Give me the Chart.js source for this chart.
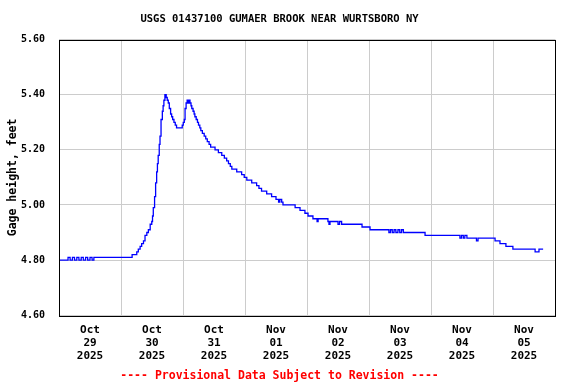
<!DOCTYPE html>
<html>
<head>
<meta charset="utf-8">
<script src="https://cdn.jsdelivr.net/npm/chart.js@4"></script>
<style>
  html, body { margin: 0; padding: 0; background: #fff; }
  #wrap { width: 576px; height: 384px; }
</style>
</head>
<body>
<div id="wrap"><canvas id="myChart"></canvas></div>
<script>
// hours after Oct 29 2025 00:00, gage height in feet
var hours = [0, 3.5, 4.3, 5.2, 6.0, 6.9, 7.7, 8.6, 9.4, 10.3, 11.1, 12.0, 12.8, 13.5,
  28.3, 30.1, 30.7, 31.4, 32.0, 32.7, 33.3, 34.0, 34.6, 35.3, 35.9, 36.2, 36.5, 37.0, 37.4, 37.8,
  38.1, 38.4, 38.8, 39.1, 39.5, 40.0, 40.3, 40.6, 41.0, 41.5, 41.9, 42.3, 42.7, 43.2, 43.6, 44.0,
  44.5, 45.0, 45.5, 47.7, 48.1, 48.5, 48.8, 49.2, 49.6, 50.0, 50.3, 50.7, 51.1, 51.4, 51.9, 52.3,
  52.6, 53.1, 53.6, 54.0, 54.5, 54.9, 55.5, 56.2, 56.8, 57.4, 58.1, 58.7, 60.4, 61.7, 63.0, 64.0,
  64.9, 65.6, 66.3, 66.9, 68.8, 70.7, 71.7, 72.7, 74.6, 76.5, 77.4, 78.4, 80.4, 82.3, 84.0, 85.0,
  85.5, 86.2, 86.7, 91.4, 93.3, 95.2, 96.4, 98.3, 99.9, 100.3, 104.1, 104.5, 104.9, 108.0, 108.6,
  109.4, 117.3, 120.4, 127.7, 128.3, 129.0, 129.7, 130.4, 131.2, 131.9, 132.6, 133.3, 141.7,
  155.2, 155.8, 156.5, 157.1, 157.9, 161.6, 162.2, 168.8, 170.7, 173.0, 175.7, 184.3, 185.8, 187.4];
var gage = [4.80, 4.81, 4.80, 4.81, 4.80, 4.81, 4.80, 4.81, 4.80, 4.81, 4.80, 4.81, 4.80, 4.81,
  4.82, 4.83, 4.84, 4.85, 4.86, 4.87, 4.89, 4.90, 4.91, 4.93, 4.94, 4.96, 4.99, 5.03, 5.08, 5.12,
  5.15, 5.18, 5.22, 5.25, 5.31, 5.34, 5.36, 5.38, 5.40, 5.39, 5.38, 5.37, 5.35, 5.33, 5.32, 5.31,
  5.30, 5.29, 5.28, 5.29, 5.30, 5.31, 5.35, 5.37, 5.38, 5.37, 5.38, 5.37, 5.36, 5.35, 5.34, 5.33,
  5.32, 5.31, 5.30, 5.29, 5.28, 5.27, 5.26, 5.25, 5.24, 5.23, 5.22, 5.21, 5.20, 5.19, 5.18, 5.17,
  5.16, 5.15, 5.14, 5.13, 5.12, 5.11, 5.10, 5.09, 5.08, 5.07, 5.06, 5.05, 5.04, 5.03, 5.02, 5.01,
  5.02, 5.01, 5.00, 4.99, 4.98, 4.97, 4.96, 4.95, 4.94, 4.95, 4.94, 4.93, 4.94, 4.93, 4.94,
  4.93, 4.92, 4.91, 4.90, 4.91, 4.90, 4.91, 4.90, 4.91, 4.90, 4.91, 4.90, 4.89,
  4.88, 4.89, 4.88, 4.89, 4.88, 4.87, 4.88, 4.87, 4.86, 4.85, 4.84, 4.83, 4.84, 4.84];

var dayLabels = [
  ['Oct', '29', '2025'], ['Oct', '30', '2025'], ['Oct', '31', '2025'], ['Nov', '01', '2025'],
  ['Nov', '02', '2025'], ['Nov', '03', '2025'], ['Nov', '04', '2025'], ['Nov', '05', '2025']
];
var yTicks = [4.6, 4.8, 5.0, 5.2, 5.4, 5.6];

Chart.defaults.font.family = "'DejaVu Sans Mono', monospace";
Chart.defaults.font.weight = 'bold';
Chart.defaults.color = '#000';

// black box round the plot area
var frame = {
  id: 'frame',
  afterDraw: function (chart) {
    var a = chart.chartArea, c = chart.ctx;
    c.save();
    c.strokeStyle = '#000';
    c.lineWidth = 1;
    c.strokeRect(Math.round(a.left) + 0.5, Math.round(a.top) + 0.5,
      Math.round(a.right - a.left), Math.round(a.bottom - a.top));
    c.restore();
  }
};

var ctx = document.getElementById('myChart').getContext('2d');
var myChart = new Chart(ctx, {
  type: 'line',
  data: {
    datasets: [{
      data: hours.map(function (h, i) { return { x: h, y: gage[i] }; }),
      borderColor: '#0000ff',
      borderWidth: 1.3,
      pointRadius: 0,
      stepped: true,
      fill: false
    }]
  },
  options: {
    responsive: true,
    maintainAspectRatio: false,
    animation: false,
    layout: { padding: { left: 4, right: 21, top: 0, bottom: 0 } },
    plugins: {
      legend: { display: false },
      tooltip: { enabled: false },
      title: {
        display: true,
        text: 'USGS 01437100 GUMAER BROOK NEAR WURTSBORO NY',
        font: { size: 10.5, weight: 'bold' },
        padding: { top: 13, bottom: 14 }
      },
      subtitle: {
        display: true,
        position: 'bottom',
        text: '---- Provisional Data Subject to Revision ----',
        color: '#ff0000',
        font: { size: 11.5, weight: 'bold' },
        padding: { top: 0, bottom: 1 }
      }
    },
    scales: {
      x: {
        type: 'linear',
        min: 0,
        max: 192,
        afterFit: function (axis) { axis.height = 54; },
        grid: {
          drawTicks: false,
          color: function (c) {
            return c.tick && c.tick.value % 24 === 0 ? '#cccccc' : 'rgba(0,0,0,0)';
          }
        },
        border: { display: false },
        ticks: {
          stepSize: 12,
          autoSkip: false,
          maxRotation: 0,
          padding: 8,
          font: { size: 11, weight: 'bold' },
          callback: function (v) {
            return v % 24 === 12 ? dayLabels[(v - 12) / 24] : '';
          }
        }
      },
      y: {
        min: 4.6,
        max: 5.6,
        afterBuildTicks: function (axis) {
          axis.ticks = yTicks.map(function (v) { return { value: v }; });
        },
        afterFit: function (axis) { axis.width = 55; },
        grid: { drawTicks: false, color: '#cccccc' },
        border: { display: false },
        ticks: {
          padding: 14,
          font: { size: 10, weight: 'bold' },
          callback: function (v) { return Number(v).toFixed(2); }
        },
        title: {
          display: true,
          text: 'Gage height, feet',
          font: { size: 11.5, weight: 'bold' },
          padding: { top: 2, bottom: 0 }
        }
      }
    }
  },
  plugins: [frame]
});
</script>
</body>
</html>
